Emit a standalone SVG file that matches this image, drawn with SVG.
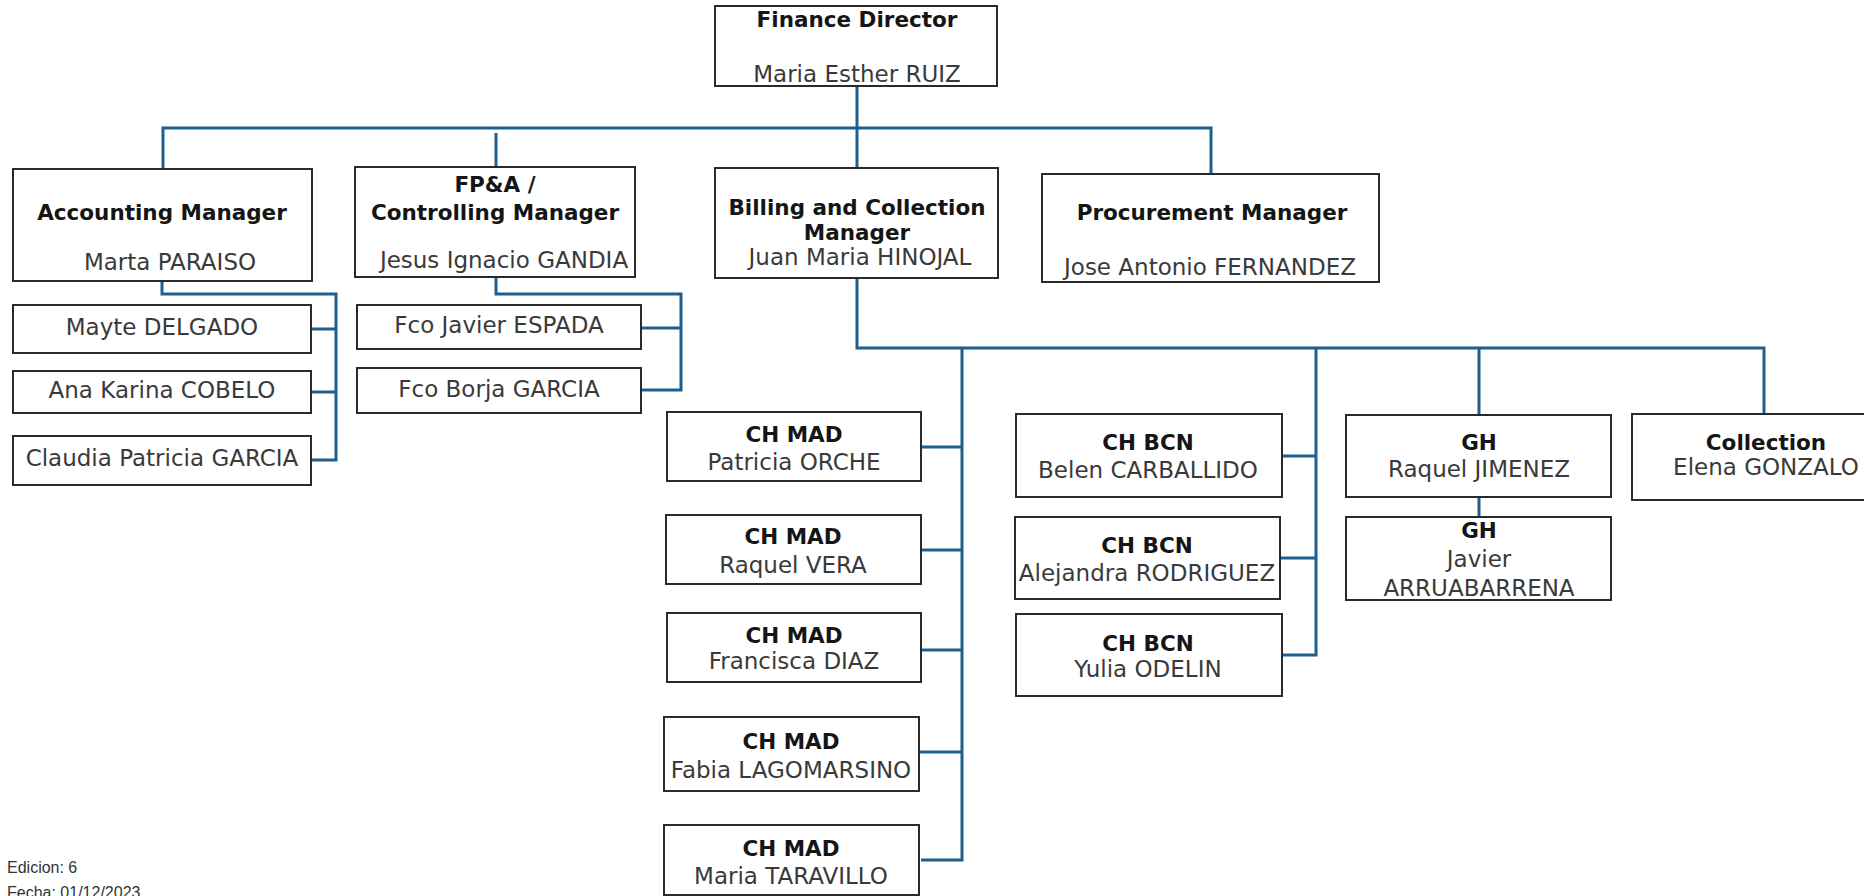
<svg xmlns="http://www.w3.org/2000/svg" width="1864" height="896" viewBox="0 0 1864 896">
  <style>
    .box { fill: #ffffff; stroke: #2a2a2a; stroke-width: 2; }
    .t { font-family: "DejaVu Sans", "Liberation Sans", sans-serif; text-anchor: middle; }
    .b { font-size: 21.5px; font-weight: bold; fill: #151515; }
    .r { font-size: 23px; fill: #3a3a3a; }
    .link { fill: none; stroke: #1f5f8e; stroke-width: 3; stroke-linejoin: miter; }
    .note { font-family: "Liberation Sans", "DejaVu Sans", sans-serif; font-size: 16px; fill: #333333; }
  </style>
  <rect width="1864" height="896" fill="#ffffff"/>

  <!-- reporting lines -->
  <g id="connectors" class="link">
    <!-- director to managers -->
    <path d="M857 86 V169"/>
    <path d="M163 170 V128 H1211 V174"/>
    <path d="M496 133 V167"/>
    <!-- accounting team -->
    <path d="M162 281 V294 H336 V460 H311"/>
    <path d="M311 329 H336"/>
    <path d="M311 392 H336"/>
    <!-- FP&A team -->
    <path d="M496 277 V294 H681 V390 H641"/>
    <path d="M641 328 H681"/>
    <!-- billing and collection -->
    <path d="M857 278 V348 H1764 V414"/>
    <path d="M962 348 V860 H921"/>
    <path d="M921 447 H962"/>
    <path d="M921 550 H962"/>
    <path d="M921 650 H962"/>
    <path d="M919 752 H962"/>
    <path d="M1316 348 V655 H1282"/>
    <path d="M1282 456 H1316"/>
    <path d="M1280 558 H1316"/>
    <path d="M1479 348 V415"/>
    <path d="M1479 497 V517"/>
  </g>

  <g id="finance-director">
    <rect class="box" x="715" y="6" width="282" height="80"/>
    <text class="t b" x="857" y="27">Finance Director</text>
    <text class="t r" x="857" y="82">Maria Esther RUIZ</text>
  </g>

  <g id="accounting-manager">
    <rect class="box" x="13" y="169" width="299" height="112"/>
    <text class="t b" x="162" y="220">Accounting Manager</text>
    <text class="t r" x="170" y="270">Marta PARAISO</text>
  </g>

  <g id="fpa-manager">
    <rect class="box" x="355" y="167" width="280" height="110"/>
    <text class="t b" x="495" y="192">FP&amp;A /</text>
    <text class="t b" x="495" y="220">Controlling Manager</text>
    <text class="t r" x="504" y="268">Jesus Ignacio GANDIA</text>
  </g>

  <g id="billing-manager">
    <rect class="box" x="715" y="168" width="283" height="110"/>
    <text class="t b" x="857" y="215">Billing and Collection</text>
    <text class="t b" x="857" y="240">Manager</text>
    <text class="t r" x="860" y="265">Juan Maria HINOJAL</text>
  </g>

  <g id="procurement-manager">
    <rect class="box" x="1042" y="174" width="337" height="108"/>
    <text class="t b" x="1212" y="220">Procurement Manager</text>
    <text class="t r" x="1210" y="275">Jose Antonio FERNANDEZ</text>
  </g>

  <g id="mayte-delgado">
    <rect class="box" x="13" y="305" width="298" height="48"/>
    <text class="t r" x="162" y="335">Mayte DELGADO</text>
  </g>
  <g id="ana-karina-cobelo">
    <rect class="box" x="13" y="371" width="298" height="42"/>
    <text class="t r" x="162" y="398">Ana Karina COBELO</text>
  </g>
  <g id="claudia-patricia-garcia">
    <rect class="box" x="13" y="436" width="298" height="49"/>
    <text class="t r" x="162" y="466">Claudia Patricia GARCIA</text>
  </g>

  <g id="fco-javier-espada">
    <rect class="box" x="357" y="305" width="284" height="44"/>
    <text class="t r" x="499" y="333">Fco Javier ESPADA</text>
  </g>
  <g id="fco-borja-garcia">
    <rect class="box" x="357" y="368" width="284" height="45"/>
    <text class="t r" x="499" y="397">Fco Borja GARCIA</text>
  </g>

  <g id="ch-mad-patricia-orche">
    <rect class="box" x="667" y="412" width="254" height="69"/>
    <text class="t b" x="794" y="442">CH MAD</text>
    <text class="t r" x="794" y="470">Patricia ORCHE</text>
  </g>
  <g id="ch-mad-raquel-vera">
    <rect class="box" x="666" y="515" width="255" height="69"/>
    <text class="t b" x="793" y="544">CH MAD</text>
    <text class="t r" x="793" y="573">Raquel VERA</text>
  </g>
  <g id="ch-mad-francisca-diaz">
    <rect class="box" x="667" y="613" width="254" height="69"/>
    <text class="t b" x="794" y="643">CH MAD</text>
    <text class="t r" x="794" y="669">Francisca DIAZ</text>
  </g>
  <g id="ch-mad-fabia-lagomarsino">
    <rect class="box" x="664" y="717" width="255" height="74"/>
    <text class="t b" x="791" y="749">CH MAD</text>
    <text class="t r" x="791" y="778">Fabia LAGOMARSINO</text>
  </g>
  <g id="ch-mad-maria-taravillo">
    <rect class="box" x="664" y="825" width="255" height="70"/>
    <text class="t b" x="791" y="856">CH MAD</text>
    <text class="t r" x="791" y="884">Maria TARAVILLO</text>
  </g>

  <g id="ch-bcn-belen-carballido">
    <rect class="box" x="1016" y="414" width="266" height="83"/>
    <text class="t b" x="1148" y="450">CH BCN</text>
    <text class="t r" x="1148" y="478">Belen CARBALLIDO</text>
  </g>
  <g id="ch-bcn-alejandra-rodriguez">
    <rect class="box" x="1015" y="517" width="265" height="82"/>
    <text class="t b" x="1147" y="553">CH BCN</text>
    <text class="t r" x="1147" y="581">Alejandra RODRIGUEZ</text>
  </g>
  <g id="ch-bcn-yulia-odelin">
    <rect class="box" x="1016" y="614" width="266" height="82"/>
    <text class="t b" x="1148" y="651">CH BCN</text>
    <text class="t r" x="1148" y="677">Yulia ODELIN</text>
  </g>

  <g id="gh-raquel-jimenez">
    <rect class="box" x="1346" y="415" width="265" height="82"/>
    <text class="t b" x="1479" y="450">GH</text>
    <text class="t r" x="1479" y="477">Raquel JIMENEZ</text>
  </g>
  <g id="gh-javier-arruabarrena">
    <rect class="box" x="1346" y="517" width="265" height="83"/>
    <text class="t b" x="1479" y="538">GH</text>
    <text class="t r" x="1479" y="567">Javier</text>
    <text class="t r" x="1479" y="596">ARRUABARRENA</text>
  </g>

  <g id="collection-elena-gonzalo">
    <rect class="box" x="1632" y="414" width="268" height="86"/>
    <text class="t b" x="1766" y="450">Collection</text>
    <text class="t r" x="1766" y="475">Elena GONZALO</text>
  </g>

  <g id="edition-note">
    <text class="note" x="7" y="873">Edicion: 6</text>
    <text class="note" x="7" y="898">Fecha: 01/12/2023</text>
  </g>
</svg>
